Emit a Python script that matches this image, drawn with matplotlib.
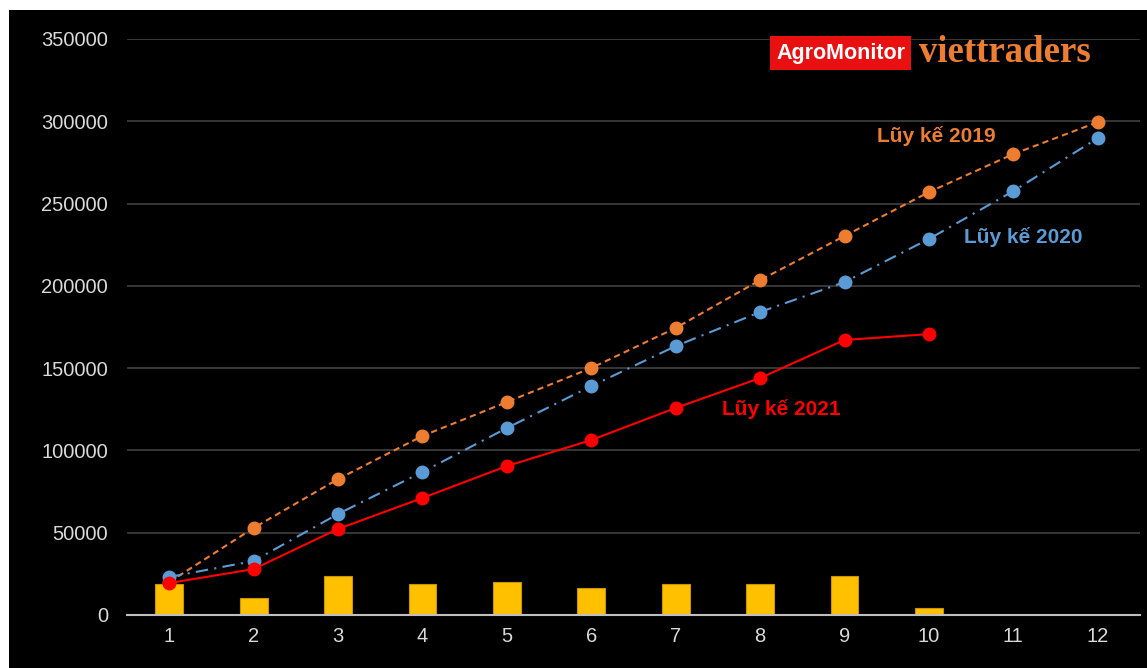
import matplotlib.pyplot as plt
from matplotlib.patches import Rectangle
import numpy as np

plt.rcParams['font.family'] = ['Liberation Sans', 'DejaVu Sans']

months = [1, 2, 3, 4, 5, 6, 7, 8, 9, 10, 11, 12]
monthly_2021 = [18800, 10300, 23700, 18800, 20000, 16400, 18800, 18800, 23700, 4300]
cum_2019 = [20000, 52900, 82600, 108800, 129400, 150100, 174400, 203500, 230300, 257000, 280100, 299500]
cum_2020 = [23100, 32800, 61400, 86900, 113600, 139100, 163400, 184100, 202300, 228500, 257600, 289800]
cum_2021 = [19400, 27900, 52300, 71100, 90500, 106300, 125800, 144000, 167100, 170700]

ORANGE = "#ED7D31"
BLUE = "#5B9BD5"
RED = "#FF0000"
GOLD = "#FFC000"

W, H = 1147, 668
fig = plt.figure(figsize=(W / 100, H / 100), dpi=100, facecolor="white")
# black panel, leaving a thin white margin on the top and left
fig.patches.append(Rectangle((9 / W, 0), 1 - 9 / W, 1 - 10 / H, transform=fig.transFigure,
                             facecolor="black", edgecolor="none", zorder=-5))

ax = fig.add_axes([127 / W, (H - 615) / H, (1140 - 127) / W, (615 - 39) / H])
ax.set_facecolor("black")

ax.bar(months[:len(monthly_2021)], monthly_2021, width=0.33, color=GOLD, edgecolor="#C89600",
       linewidth=0.8, zorder=2)
ax.plot(months, cum_2019, color=ORANGE, linestyle=(0, (3, 2)), linewidth=1.5,
        marker="o", markersize=9, zorder=3)
ax.plot(months, cum_2020, color=BLUE, linestyle=(0, (6, 3, 1, 3)), linewidth=1.5,
        marker="o", markersize=9, zorder=4)
ax.plot(months[:len(cum_2021)], cum_2021, color=RED, linestyle="-", linewidth=1.5,
        marker="o", markersize=9, zorder=5)

ax.set_xlim(0.5, 12.5)
ax.set_ylim(0, 350000)
ax.set_xticks(months)
ax.set_yticks(np.arange(0, 350001, 50000))
ax.yaxis.grid(True, color="#404040", linewidth=1.2)
ax.set_axisbelow(True)
for side in ["top", "right", "left"]:
    ax.spines[side].set_visible(False)
ax.spines["bottom"].set_color("#BFBFBF")
ax.spines["bottom"].set_linewidth(1.5)
ax.tick_params(axis="both", length=0, colors="#D9D9D9", labelsize=14.5)
ax.tick_params(axis="y", pad=13.5)
ax.tick_params(axis="x", pad=9)

ax.text(9.39, 291000, "Lũy kế 2019", color=ORANGE, fontsize=15, fontweight="bold",
        ha="left", va="center")
ax.text(10.41, 229500, "Lũy kế 2020", color=BLUE, fontsize=15, fontweight="bold",
        ha="left", va="center")
ax.text(7.55, 125000, "Lũy kế 2021", color=RED, fontsize=15, fontweight="bold",
        ha="left", va="center")

# logo
fig.text(840.5 / W, 1 - 53 / H, "AgroMonitor", color="white", fontsize=15.5, fontweight="bold",
         ha="center", va="center",
         bbox=dict(boxstyle="square,pad=0.3", facecolor="#E81010", edgecolor="none"))
fig.text(919 / W, 1 - 52 / H, "viettraders", color=ORANGE, fontsize=26.5, fontweight="bold",
         family="Liberation Serif", ha="left", va="center")

fig.savefig("out.png", dpi=100, facecolor=fig.get_facecolor())
